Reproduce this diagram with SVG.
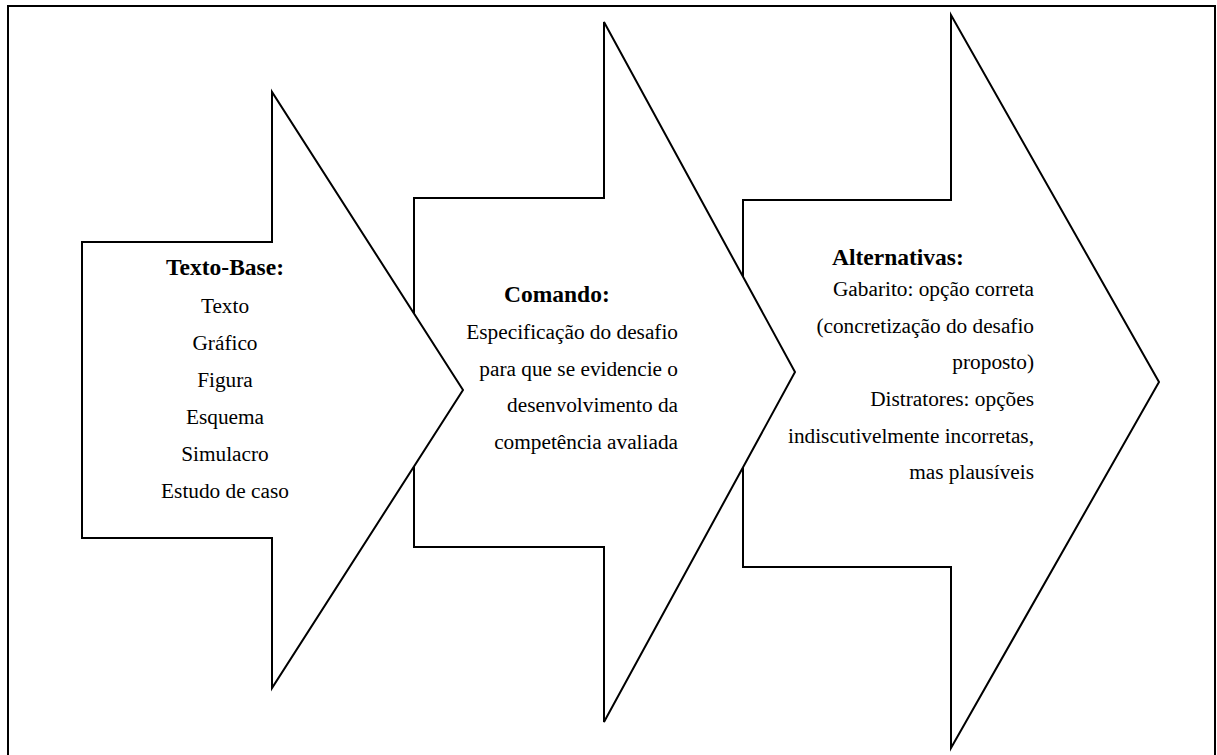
<svg xmlns="http://www.w3.org/2000/svg" width="1217" height="755" viewBox="0 0 1217 755">
<style>
.shape{fill:#fff;stroke:#000;stroke-width:2;stroke-linejoin:miter}
.border{fill:none;stroke:#000;stroke-width:2}
.t{font-family:"Liberation Serif","Times New Roman",serif;font-size:21.3px;fill:#000}
.b{font-family:"Liberation Serif","Times New Roman",serif;font-size:23.5px;font-weight:bold;fill:#000}
.m{text-anchor:middle}
.r{text-anchor:end}
</style>
<rect x="0" y="0" width="1217" height="755" fill="#fff"/>
<rect class="border" x="8" y="6" width="1207" height="760"/>
<g id="connectors"></g>
<g id="alternativas">
<polygon class="shape" points="743,200 951,200 951,15 1159,382 951,748 951,567 743,567"/>
<text class="b" x="832" y="265">Alternativas:</text>
<text class="t r" x="1034" y="296">Gabarito: opção correta</text>
<text class="t r" x="1034" y="332.7">(concretização do desafio</text>
<text class="t r" x="1034" y="369.3">proposto)</text>
<text class="t r" x="1034" y="406">Distratores: opções</text>
<text class="t r" x="1034" y="442.7">indiscutivelmente incorretas,</text>
<text class="t r" x="1034" y="479.3">mas plausíveis</text>
</g>
<g id="comando">
<polygon class="shape" points="414,198 604,198 604,22 795,372 604,722 604,547 414,547"/>
<text class="b" x="504" y="302">Comando:</text>
<text class="t r" x="678" y="339">Especificação do desafio</text>
<text class="t r" x="678" y="375.7">para que se evidencie o</text>
<text class="t r" x="678" y="412.3">desenvolvimento da</text>
<text class="t r" x="678" y="449">competência avaliada</text>
</g>
<g id="texto-base">
<polygon class="shape" points="82,242 272,242 272,92 463,390 272,688 272,538 82,538"/>
<text class="b m" x="225" y="275">Texto-Base:</text>
<text class="t m" x="225" y="313">Texto</text>
<text class="t m" x="225" y="350">Gráfico</text>
<text class="t m" x="225" y="387">Figura</text>
<text class="t m" x="225" y="424">Esquema</text>
<text class="t m" x="225" y="461">Simulacro</text>
<text class="t m" x="225" y="498">Estudo de caso</text>
</g>
</svg>
